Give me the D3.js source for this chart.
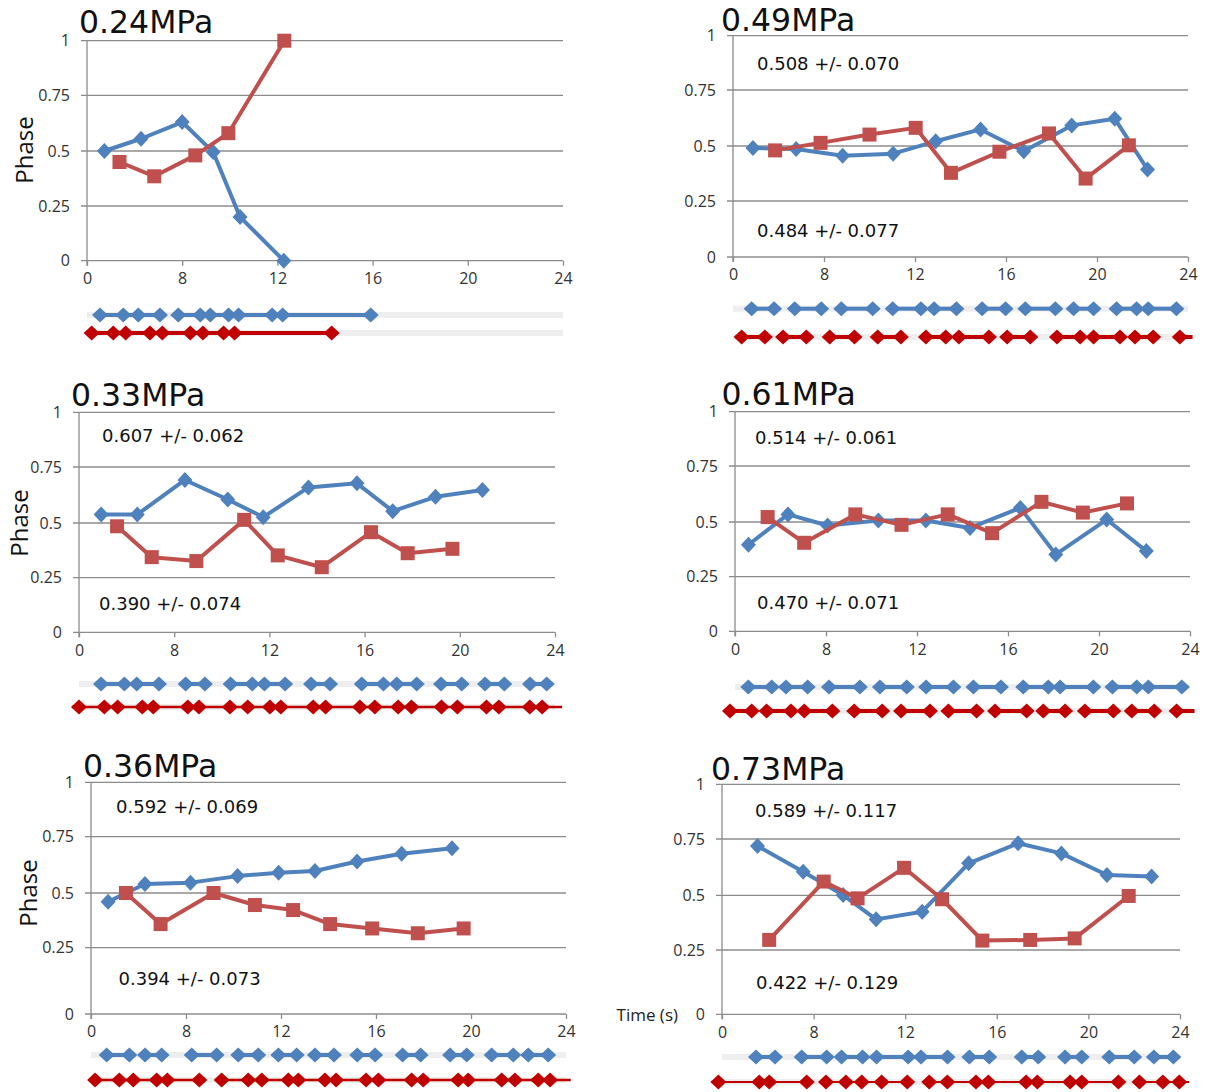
<!DOCTYPE html>
<html>
<head>
<meta charset="utf-8">
<script src="https://cdn.jsdelivr.net/npm/d3@7"></script>
<style>
  body { margin: 0; background: #fff; }
  svg { display: block; }
</style>
</head>
<body>
<svg id="fig" width="1207" height="1092"></svg>
<script>
// ---- shared axis ticks ----
const xTickValues = [0, 8, 12, 16, 20, 24];
const yTickValues = [0, 0.25, 0.5, 0.75, 1];

// ---- 0.24 MPa ----
const p24Title = "0.24MPa";
const p24BlueT = [1.46, 4.54, 8.0, 9.30, 10.43, 12.27];
const p24BlueV = [0.50, 0.555, 0.63, 0.495, 0.20, 0.0];
const p24RedT = [2.73, 5.65, 8.55, 9.94, 12.29];
const p24RedV = [0.45, 0.385, 0.48, 0.58, 1.0];
const p24BlueEvents = [1.09, 3.05, 4.31, 6.13, 7.67, 8.76, 9.18, 9.95, 10.37, 11.78, 12.22, 15.92];
const p24BlueSpans = [[1.09, 6.13], [7.67, 15.92]];
const p24RedEvents = [0.39, 2.21, 3.25, 5.29, 6.33, 8.34, 8.87, 9.74, 10.2, 14.28];
const p24RedSpans = [[0.39, 14.28]];

// ---- 0.49 MPa ----
const p49Title = "0.49MPa";
const p49Stats = ["0.508 +/- 0.070", "0.484 +/- 0.077"];
const p49BlueT = [1.75, 5.55, 8.82, 11.04, 12.91, 14.88, 16.78, 18.89, 20.78, 22.22];
const p49BlueV = [0.491, 0.486, 0.456, 0.465, 0.521, 0.574, 0.476, 0.592, 0.622, 0.393];
const p49RedT = [3.70, 7.70, 10.0, 12.03, 13.58, 15.71, 17.89, 19.5, 21.4];
const p49RedV = [0.48, 0.514, 0.551, 0.581, 0.378, 0.474, 0.556, 0.352, 0.503];
const p49BlueEvents = [1.64, 3.61, 5.43, 7.76, 8.76, 10.14, 11.02, 12.26, 12.84, 13.82, 14.95, 15.98, 16.85, 18.17, 18.97, 19.85, 20.86, 21.74, 22.25, 23.49];
const p49BlueSpans = [[1.64, 3.61], [5.43, 7.76], [8.76, 10.14], [11.02, 12.26], [12.84, 13.82], [14.95, 15.98], [16.85, 18.17], [18.97, 19.85], [20.86, 21.74], [22.25, 23.49]];
const p49RedEvents = [0.76, 2.80, 4.40, 6.45, 8.25, 9.34, 10.36, 11.38, 12.48, 13.35, 13.93, 15.25, 16.05, 17.07, 18.24, 19.26, 19.85, 21.01, 21.67, 22.47, 23.64];
const p49RedSpans = [[0.76, 2.80], [4.40, 6.45], [8.25, 9.34], [10.36, 11.38], [12.48, 13.35], [13.93, 15.25], [16.05, 17.07], [18.24, 19.26], [19.85, 21.01], [21.67, 22.47], [23.64, 24.2]];

// ---- 0.33 MPa ----
const p33Title = "0.33MPa";
const p33Stats = ["0.607 +/- 0.062", "0.390 +/- 0.074"];
const p33BlueT = [1.86, 4.90, 8.45, 10.25, 11.74, 13.64, 15.68, 17.18, 18.98, 20.95];
const p33BlueV = [0.538, 0.538, 0.692, 0.605, 0.526, 0.659, 0.677, 0.553, 0.617, 0.647];
const p33RedT = [3.2, 6.11, 8.93, 10.94, 12.35, 14.2, 16.27, 17.81, 19.69];
const p33RedV = [0.485, 0.344, 0.326, 0.514, 0.352, 0.298, 0.458, 0.362, 0.382];
const p33BlueEvents = [1.85, 3.81, 4.85, 6.72, 8.48, 9.29, 10.37, 11.28, 11.79, 12.66, 13.75, 14.55, 15.88, 16.79, 17.35, 18.19, 19.21, 20.08, 21.06, 21.87, 22.95, 23.65];
const p33BlueSpans = [[1.85, 3.81], [4.85, 6.72], [8.48, 9.29], [10.37, 11.28], [11.79, 12.66], [13.75, 14.55], [15.88, 16.79], [17.35, 18.19], [19.21, 20.08], [21.06, 21.87], [22.95, 23.65]];
const p33RedEvents = [0, 2.13, 3.25, 5.32, 6.24, 8.57, 9.04, 10.34, 11.09, 12.02, 12.48, 13.84, 14.36, 15.8, 16.43, 17.41, 17.97, 19.23, 19.9, 21.12, 21.64, 22.94, 23.46];
const p33RedSpans = [[-0.6, 24.3]];

// ---- 0.61 MPa ----
const p61Title = "0.61MPa";
const p61Stats = ["0.514 +/- 0.061", "0.470 +/- 0.071"];
const p61BlueT = [1.18, 4.66, 8.07, 10.3, 12.39, 14.33, 16.54, 18.1, 20.34, 22.08];
const p61BlueV = [0.396, 0.534, 0.484, 0.507, 0.507, 0.473, 0.563, 0.352, 0.511, 0.367];
const p61RedT = [2.87, 6.08, 9.29, 11.32, 13.35, 15.3, 17.47, 19.29, 21.23];
const p61RedV = [0.522, 0.405, 0.534, 0.487, 0.534, 0.449, 0.590, 0.542, 0.583];
const p61BlueEvents = [1.17, 3.23, 4.48, 6.39, 8.13, 9.49, 10.37, 11.55, 12.4, 13.6, 14.48, 15.69, 16.67, 17.77, 18.29, 19.75, 20.59, 21.66, 22.17, 23.64];
const p61BlueSpans = [[1.17, 3.23], [4.48, 6.39], [8.13, 9.49], [10.37, 11.55], [12.4, 13.6], [14.48, 15.69], [16.67, 17.77], [18.29, 19.75], [20.59, 21.66], [22.17, 23.64]];
const p61RedEvents = [-0.44, 1.47, 2.78, 4.92, 6.09, 8.28, 9.24, 10.47, 11.3, 12.57, 13.38, 14.62, 15.43, 16.82, 17.55, 18.51, 19.38, 20.63, 21.44, 22.43, 23.41];
const p61RedSpans = [[-0.44, 1.47], [2.78, 4.92], [6.09, 8.28], [9.24, 10.47], [11.3, 12.57], [13.38, 14.62], [15.43, 16.82], [17.55, 18.51], [19.38, 20.63], [21.44, 22.43], [23.41, 24.2]];

// ---- 0.36 MPa ----
const p36Title = "0.36MPa";
const p36Stats = ["0.592 +/- 0.069", "0.394 +/- 0.073"];
const p36BlueT = [1.44, 4.54, 8.19, 10.17, 11.9, 13.43, 15.2, 17.08, 19.2];
const p36BlueV = [0.46, 0.54, 0.546, 0.575, 0.59, 0.598, 0.64, 0.674, 0.699];
const p36RedT = [2.94, 5.86, 9.16, 10.9, 12.51, 14.07, 15.84, 17.76, 19.69];
const p36RedV = [0.5, 0.358, 0.5, 0.445, 0.422, 0.358, 0.338, 0.316, 0.338];
const p36BlueEvents = [1.32, 3.23, 4.55, 5.95, 8.24, 9.29, 10.2, 11.04, 11.89, 12.66, 13.43, 14.23, 15.21, 15.96, 17.12, 17.88, 19.12, 19.82, 20.87, 21.78, 22.41, 23.25];
const p36BlueSpans = [[1.32, 3.23], [4.55, 5.95], [8.24, 9.29], [10.2, 11.04], [11.89, 12.66], [13.43, 14.23], [15.21, 15.96], [17.12, 17.88], [19.12, 19.82], [20.87, 21.78], [22.41, 23.25]];
const p36RedEvents = [0.34, 2.38, 3.56, 5.53, 6.43, 8.56, 9.5, 10.62, 11.19, 12.31, 12.73, 13.85, 14.32, 15.58, 16.1, 17.5, 17.99, 19.46, 19.88, 21.29, 21.85, 22.83, 23.33];
const p36RedSpans = [[-0.1, 8.56], [9.5, 24.2]];

// ---- 0.73 MPa ----
const p73Title = "0.73MPa";
const p73Stats = ["0.589 +/- 0.117", "0.422 +/- 0.129"];
const p73BlueT = [3.1, 7.09, 9.29, 10.73, 12.74, 14.77, 16.93, 18.82, 20.81, 22.76];
const p73BlueV = [0.719, 0.605, 0.501, 0.39, 0.425, 0.642, 0.731, 0.686, 0.59, 0.583];
const p73RedT = [4.12, 8.44, 9.92, 11.95, 13.61, 15.37, 17.46, 19.4, 21.76];
const p73RedV = [0.296, 0.561, 0.486, 0.622, 0.482, 0.293, 0.296, 0.303, 0.497];
const p73BlueEvents = [2.97, 4.63, 6.96, 8.57, 9.22, 10.14, 10.75, 12.13, 12.69, 13.85, 14.8, 15.67, 17.09, 17.81, 18.98, 19.71, 20.91, 22.0, 22.86, 23.71];
const p73BlueSpans = [[2.97, 4.63], [6.96, 8.57], [9.22, 10.14], [10.75, 12.13], [12.69, 13.85], [14.8, 15.67], [17.09, 17.81], [18.98, 19.71], [20.91, 22.0], [22.86, 23.71]];
const p73RedEvents = [-0.32, 3.26, 4.13, 7.4, 8.54, 9.41, 10.1, 10.97, 12.09, 13.05, 13.84, 15.09, 15.63, 17.28, 17.77, 19.2, 19.71, 21.31, 22.23, 23.25, 23.97];
const p73RedSpans = [[-0.32, 7.4], [8.54, 12.09], [13.05, 21.31], [22.23, 24.4]];

// ---- colours & fonts ----
const BLUE = "#4f81bd";
const RED = "#c0504d";
const EVENT_RED = "#c00000";
const GRID = "#8c8c8c";
const BAND = "#eeeeee";
const TICK_FONT = "'Open Sans', 'Noto Sans', sans-serif";
const TEXT_FONT = "'DejaVu Sans', Verdana, sans-serif";

// ---- panel placement ----
const panels = [
  { title: p24Title, stats: null, blueT: p24BlueT, blueV: p24BlueV, redT: p24RedT, redV: p24RedV,
    blueEv: p24BlueEvents, blueSp: p24BlueSpans, redEv: p24RedEvents, redSp: p24RedSpans,
    x0: 87, x1: 563, yPos: [260.7, 206, 151, 95.3, 40.7],
    titleAt: [79, 32.7], phaseAt: [23, 150], statsAt: null,
    rowBlue: 315, rowRed: 333, redRowW: 4 },
  { title: p49Title, stats: p49Stats, blueT: p49BlueT, blueV: p49BlueV, redT: p49RedT, redV: p49RedV,
    blueEv: p49BlueEvents, blueSp: p49BlueSpans, redEv: p49RedEvents, redSp: p49RedSpans,
    x0: 733, x1: 1188, yPos: [257, 201, 146, 90, 35.7],
    titleAt: [721, 30.7], phaseAt: null, statsAt: [[757, 70], [757, 237.3]],
    rowBlue: 308.7, rowRed: 337, redRowW: 4 },
  { title: p33Title, stats: p33Stats, blueT: p33BlueT, blueV: p33BlueV, redT: p33RedT, redV: p33RedV,
    blueEv: p33BlueEvents, blueSp: p33BlueSpans, redEv: p33RedEvents, redSp: p33RedSpans,
    x0: 79, x1: 555, yPos: [632.3, 577.7, 523, 467, 412.3],
    titleAt: [71, 405.7], phaseAt: [18, 523], statsAt: [[102, 442.3], [99, 610]],
    rowBlue: 684, rowRed: 707, redRowW: 2.5 },
  { title: p61Title, stats: p61Stats, blueT: p61BlueT, blueV: p61BlueV, redT: p61RedT, redV: p61RedV,
    blueEv: p61BlueEvents, blueSp: p61BlueSpans, redEv: p61RedEvents, redSp: p61RedSpans,
    x0: 735, x1: 1190, yPos: [631.3, 576.7, 522, 466, 411.7],
    titleAt: [721.5, 405], phaseAt: null, statsAt: [[755, 444], [757, 609.3]],
    rowBlue: 687, rowRed: 711, redRowW: 4 },
  { title: p36Title, stats: p36Stats, blueT: p36BlueT, blueV: p36BlueV, redT: p36RedT, redV: p36RedV,
    blueEv: p36BlueEvents, blueSp: p36BlueSpans, redEv: p36RedEvents, redSp: p36RedSpans,
    x0: 91, x1: 566, yPos: [1014, 947.7, 893, 836.7, 782.3],
    titleAt: [83, 777.3], phaseAt: [27, 893], statsAt: [[116, 812.7], [118.5, 985]],
    rowBlue: 1055, rowRed: 1080, redRowW: 2.5 },
  { title: p73Title, stats: p73Stats, blueT: p73BlueT, blueV: p73BlueV, redT: p73RedT, redV: p73RedV,
    blueEv: p73BlueEvents, blueSp: p73BlueSpans, redEv: p73RedEvents, redSp: p73RedSpans,
    x0: 722, x1: 1180, yPos: [1014.3, 950, 895.3, 839, 784.3],
    titleAt: [711, 780], phaseAt: null, statsAt: [[755, 817.3], [756, 989.3]],
    rowBlue: 1057, rowRed: 1082, redRowW: 2, timeLabel: true }
];

const svg = d3.select("#fig");

// diamond with separate half-width / half-height
const diamond = (w, h) => `M0,${-h}L${w},0L0,${h}L${-w},0Z`;

panels.forEach(p => {
  const g = svg.append("g");

  // time axis: tick labels are evenly spaced, so the scale is piecewise linear
  const x = d3.scaleLinear()
    .domain(xTickValues)
    .range(xTickValues.map((d, i) => p.x0 + i * (p.x1 - p.x0) / (xTickValues.length - 1)));
  const y = d3.scaleLinear().domain(yTickValues).range(p.yPos);

  // horizontal gridlines (extend a little left of the axis as ticks)
  g.append("g").selectAll("line").data(yTickValues).join("line")
    .attr("x1", p.x0 - 6).attr("x2", p.x1)
    .attr("y1", d => y(d)).attr("y2", d => y(d))
    .attr("stroke", GRID).attr("stroke-width", 1.3);

  // y axis line
  g.append("line")
    .attr("x1", p.x0).attr("x2", p.x0)
    .attr("y1", y(1)).attr("y2", y(0) + 5)
    .attr("stroke", GRID).attr("stroke-width", 1.3);

  // y tick labels
  const yAxis = d3.axisLeft(y).tickValues(yTickValues).tickFormat(d => String(d)).tickSize(0).tickPadding(17);
  const ya = g.append("g").attr("transform", `translate(${p.x0},0)`).call(yAxis);
  ya.select(".domain").remove();
  ya.selectAll("text").attr("font-family", TICK_FONT).attr("font-size", 16).attr("fill", "#333");

  // x axis ticks and labels
  const xAxis = d3.axisBottom(x).tickValues(xTickValues).tickFormat(d => String(d)).tickSize(5).tickPadding(7);
  const xa = g.append("g").attr("transform", `translate(0,${y(0)})`).call(xAxis);
  xa.select(".domain").remove();
  xa.selectAll("line").attr("stroke", GRID).attr("stroke-width", 1.3);
  xa.selectAll("text").attr("font-family", TICK_FONT).attr("font-size", 16).attr("fill", "#333");

  // title
  g.append("text")
    .attr("x", p.titleAt[0]).attr("y", p.titleAt[1])
    .attr("font-family", TEXT_FONT).attr("font-size", 31.5)
    .attr("fill", "#111").text(p.title);

  // y-axis title
  if (p.phaseAt) {
    g.append("text")
      .attr("transform", `translate(${p.phaseAt[0]},${p.phaseAt[1]}) rotate(-90)`)
      .attr("text-anchor", "middle").attr("dominant-baseline", "central")
      .attr("font-family", TICK_FONT).attr("font-size", 24)
      .attr("fill", "#111").text("Phase");
  }

  // time label beside the axis origin
  if (p.timeLabel) {
    g.append("text")
      .attr("x", p.x0 - 44).attr("y", y(0) + 7)
      .attr("text-anchor", "end")
      .attr("font-family", TICK_FONT).attr("font-size", 17)
      .attr("fill", "#222").text("Time (s)");
  }

  // phase statistics
  if (p.stats) {
    g.selectAll("text.stat").data(p.stats).join("text").attr("class", "stat")
      .attr("x", (d, i) => p.statsAt[i][0]).attr("y", (d, i) => p.statsAt[i][1])
      .attr("font-family", TEXT_FONT).attr("font-size", 18)
      .attr("fill", "#111").text(d => d);
  }

  // phase series
  const line = d3.line().x(d => x(d[0])).y(d => y(d[1]));
  const blue = p.blueT.map((t, i) => [t, p.blueV[i]]);
  const red = p.redT.map((t, i) => [t, p.redV[i]]);

  g.append("path").datum(blue).attr("d", line)
    .attr("fill", "none").attr("stroke", BLUE).attr("stroke-width", 4)
    .attr("stroke-linejoin", "round");
  g.append("g").selectAll("path").data(blue).join("path")
    .attr("transform", d => `translate(${x(d[0])},${y(d[1])})`)
    .attr("d", diamond(7.5, 8)).attr("fill", BLUE);

  g.append("path").datum(red).attr("d", line)
    .attr("fill", "none").attr("stroke", RED).attr("stroke-width", 4)
    .attr("stroke-linejoin", "round");
  g.append("g").selectAll("rect").data(red).join("rect")
    .attr("x", d => x(d[0]) - 7).attr("y", d => y(d[1]) - 7)
    .attr("width", 14).attr("height", 14).attr("fill", RED);

  // event rows
  const row = (yy, events, spans, colour, width) => {
    const r = g.append("g");
    r.append("line")
      .attr("x1", x(0)).attr("x2", x(24)).attr("y1", yy).attr("y2", yy)
      .attr("stroke", BAND).attr("stroke-width", 6);
    r.selectAll("line.span").data(spans).join("line").attr("class", "span")
      .attr("x1", d => x(d[0])).attr("x2", d => x(d[1]))
      .attr("y1", yy).attr("y2", yy)
      .attr("stroke", colour).attr("stroke-width", width);
    r.selectAll("path").data(events).join("path")
      .attr("transform", d => `translate(${x(d)},${yy})`)
      .attr("d", diamond(8, 7.5)).attr("fill", colour);
  };
  row(p.rowBlue, p.blueEv, p.blueSp, BLUE, 4);
  row(p.rowRed, p.redEv, p.redSp, EVENT_RED, p.redRowW);
});
</script>
</body>
</html>
